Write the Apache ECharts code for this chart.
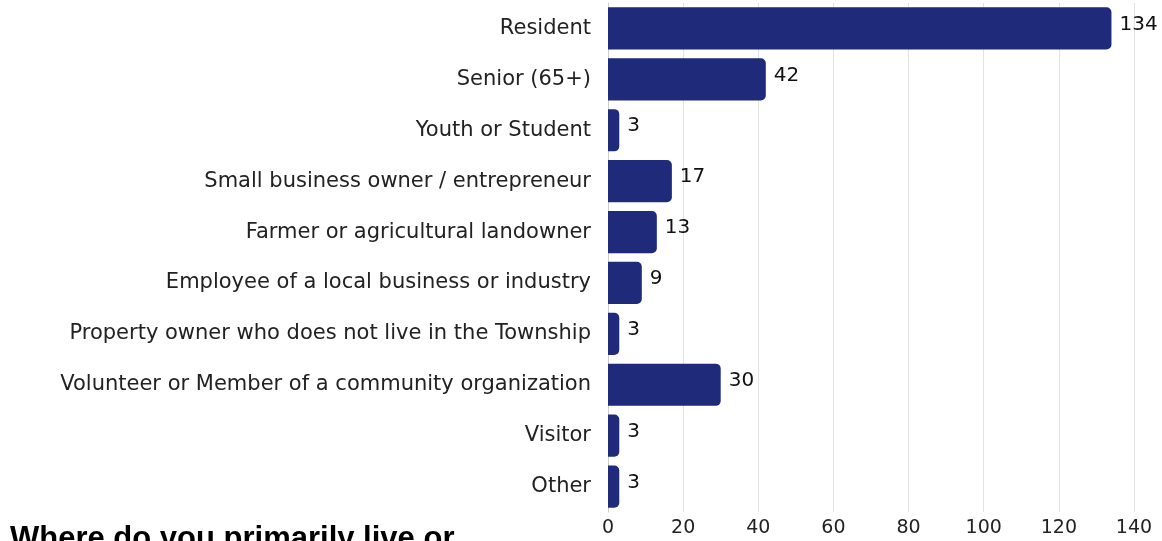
<!DOCTYPE html>
<html>
<head>
<meta charset="utf-8">
<script src="https://cdn.jsdelivr.net/npm/echarts@6/dist/echarts.min.js"></script>
<style>
  html, body { margin: 0; padding: 0; background: #fff; }
  #chart { width: 1162px; height: 541px; }
</style>
</head>
<body>
<div id="chart"></div>
<script>
// Survey respondents by role (multiple answers allowed)
const categories = [
  'Resident',
  'Senior (65+)',
  'Youth or Student',
  'Small business owner / entrepreneur',
  'Farmer or agricultural landowner',
  'Employee of a local business or industry',
  'Property owner who does not live in the Township',
  'Volunteer or Member of a community organization',
  'Visitor',
  'Other'
];
const counts = [134, 42, 3, 17, 13, 9, 3, 30, 3, 3];
const axisMax = 140;
const axisStep = 20;
const titleText = 'Where do you primarily live or';

const font = '"DejaVu Sans", sans-serif';
const chart = echarts.init(document.getElementById('chart'), null, { renderer: 'canvas' });
chart.setOption({
  animation: false,
  title: {
    text: titleText,
    left: 10,
    top: 524,
    padding: 0,
    textStyle: { fontFamily: '"Liberation Sans", Arial, sans-serif', fontWeight: 'bold', fontSize: 31, color: '#000' }
  },
  grid: { left: 608, right: 28, top: 3, bottom: 29, containLabel: false },
  xAxis: {
    type: 'value',
    min: 0,
    max: axisMax,
    interval: axisStep,
    axisLine: { show: false },
    axisTick: { show: false },
    splitLine: { show: true, lineStyle: { color: '#e3e3e3', width: 1 } },
    axisLabel: { fontFamily: font, fontSize: 19, color: '#222', margin: 7 }
  },
  yAxis: {
    type: 'category',
    data: categories,
    inverse: true,
    axisLine: { show: true, lineStyle: { color: '#cfcfcf', width: 1 } },
    axisTick: { show: false },
    axisLabel: { fontFamily: font, fontSize: 21, color: '#222', margin: 17 }
  },
  series: [{
    type: 'bar',
    data: counts,
    barCategoryGap: '17%',
    itemStyle: { color: '#1f2a7a', borderRadius: [0, 5, 5, 0] },
    label: {
      show: true,
      position: 'right',
      distance: 8,
      fontFamily: font,
      fontSize: 20,
      color: '#111',
      offset: [0, -4]
    }
  }]
});
</script>
</body>
</html>
